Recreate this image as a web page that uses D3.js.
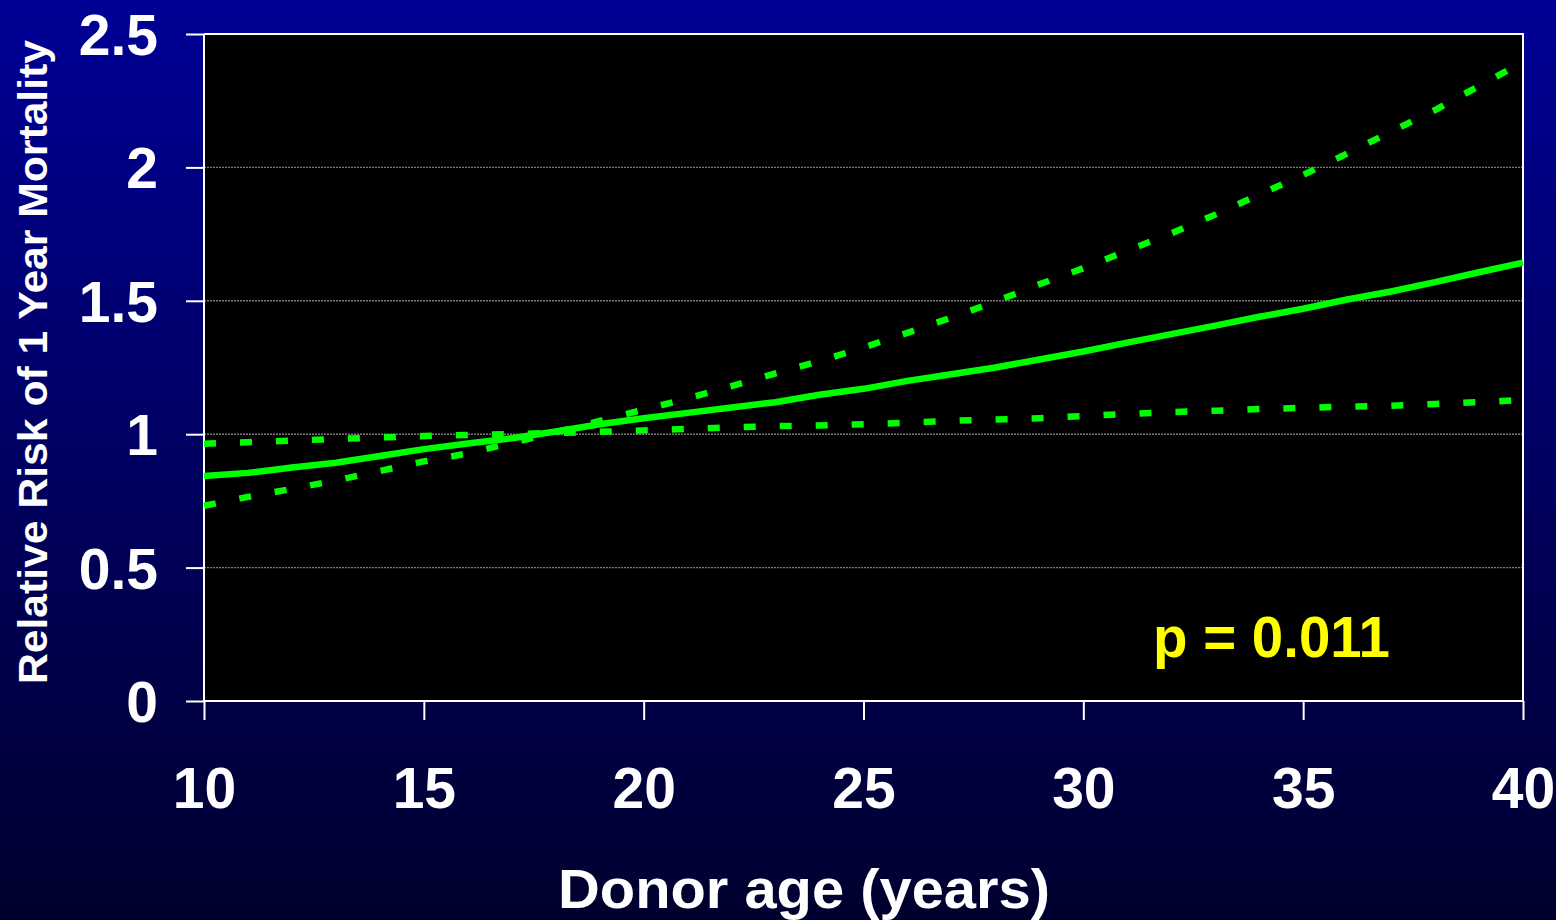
<!DOCTYPE html>
<meta charset="utf-8">
<style>
  body { margin: 0; background: #000; }
  svg { display: block; font-family: "Liberation Sans", Arial, sans-serif; font-weight: bold; }
</style>
<svg width="1556" height="920"></svg>
<script src="https://d3js.org/d3.v7.min.js"></script>
<script>

// donor age (years)
var ages = d3.range(10, 41);
// relative risk
var riskMid = [0.843, 0.855, 0.875, 0.893, 0.918, 0.944, 0.965, 0.985, 1.01, 1.037, 1.06,
               1.08, 1.1, 1.12, 1.148, 1.17, 1.2, 1.225, 1.25, 1.28, 1.31,
               1.343, 1.375, 1.407, 1.44, 1.47, 1.505, 1.535, 1.57, 1.607, 1.643];
var riskLow = [0.964, 0.97, 0.976, 0.982, 0.988, 0.993, 0.997, 1.0, 1.005, 1.009, 1.014,
               1.02, 1.026, 1.03, 1.033, 1.037, 1.043, 1.05, 1.055, 1.06, 1.068,
               1.076, 1.083, 1.088, 1.094, 1.099, 1.103, 1.107, 1.113, 1.12, 1.128];
var riskHigh = [0.732, 0.765, 0.795, 0.827, 0.862, 0.898, 0.928, 0.968, 1.007, 1.05, 1.092,
                1.134, 1.18, 1.228, 1.274, 1.325, 1.38, 1.437, 1.497, 1.562, 1.622,
                1.688, 1.753, 1.823, 1.898, 1.972, 2.052, 2.134, 2.215, 2.305, 2.395];
var xTicks = [10, 15, 20, 25, 30, 35, 40];
var yTicks = [0, 0.5, 1, 1.5, 2, 2.5];
var gridVals = [0.5, 1, 1.5, 2];

var svg = d3.select("svg"),
    width = +svg.attr("width"),
    height = +svg.attr("height");

var plotL = 204, plotR = 1523, plotT = 34, plotB = 701;

// background gradient
var grad = svg.append("defs").append("linearGradient")
    .attr("id", "bg").attr("x1", 0).attr("y1", 0).attr("x2", 0).attr("y2", 1);
grad.append("stop").attr("offset", "0%").attr("stop-color", "#000096");
grad.append("stop").attr("offset", "100%").attr("stop-color", "#00002e");

svg.append("rect").attr("width", width).attr("height", height).attr("fill", "url(#bg)");

var x = d3.scaleLinear().domain([10, 40]).range([plotL, plotR]);
var y = d3.scaleLinear().domain([0, 2.5]).range([plotB, plotT]);

// plot area
svg.append("rect")
    .attr("x", plotL).attr("y", plotT)
    .attr("width", plotR - plotL).attr("height", plotB - plotT)
    .attr("fill", "#000");

// gridlines
svg.append("g").selectAll("line")
  .data(gridVals)
  .enter().append("line")
    .attr("x1", plotL).attr("x2", plotR)
    .attr("y1", function(d) { return y(d); })
    .attr("y2", function(d) { return y(d); })
    .attr("stroke", "#7a7a7a")
    .attr("stroke-width", 1.4)
    .attr("stroke-dasharray", "2,1");

// frame top / right
svg.append("path")
    .attr("d", "M" + plotL + "," + plotT + "H" + plotR + "V" + plotB)
    .attr("fill", "none").attr("stroke", "#fff").attr("stroke-width", 2);

// axes
var yAxis = svg.append("g")
    .attr("transform", "translate(" + plotL + ",0)")
    .call(d3.axisLeft(y).tickValues(yTicks).tickSize(18).tickPadding(28)
      .tickFormat(function(d) { return String(d); }));

var xAxis = svg.append("g")
    .attr("transform", "translate(0," + plotB + ")")
    .call(d3.axisBottom(x).tickValues(xTicks).tickSize(19)
      .tickFormat(function(d) { return String(d); }));

[yAxis, xAxis].forEach(function(ax) {
  ax.select(".domain").attr("stroke", "#fff").attr("stroke-width", 2);
  ax.selectAll(".tick line").attr("stroke", "#fff").attr("stroke-width", 2);
  ax.selectAll("text").attr("fill", "#fff").attr("font-size", 57)
    .attr("font-family", "Liberation Sans, Arial, sans-serif").attr("font-weight", "bold");
});
yAxis.select(".domain").attr("d", "M0," + plotB + "V" + plotT);
yAxis.selectAll("text").attr("dy", "0.36em");
xAxis.select(".domain").attr("d", "M" + plotL + ",0H" + plotR);
xAxis.selectAll("text").attr("y", 107).attr("dy", 0);

// curves
var line = d3.line()
    .x(function(d, i) { return x(ages[i]); })
    .y(function(d) { return y(d); });

svg.append("path").datum(riskLow)
    .attr("d", line).attr("fill", "none")
    .attr("stroke", "#00ff00").attr("stroke-width", 6.5)
    .attr("stroke-dasharray", "12,24");

svg.append("path").datum(riskHigh)
    .attr("d", line).attr("fill", "none")
    .attr("stroke", "#00ff00").attr("stroke-width", 6.5)
    .attr("stroke-dasharray", "12,24");

svg.append("path").datum(riskMid)
    .attr("d", line).attr("fill", "none")
    .attr("stroke", "#00ff00").attr("stroke-width", 6.5);

// labels
svg.append("text")
    .attr("x", 1153).attr("y", 657)
    .attr("fill", "#ffff00").attr("font-size", 57)
    .attr("textLength", 237).attr("lengthAdjust", "spacingAndGlyphs")
    .text("p = 0.011");

svg.append("text")
    .attr("x", 558).attr("y", 908)
    .attr("fill", "#fff").attr("font-size", 56)
    .attr("textLength", 492).attr("lengthAdjust", "spacingAndGlyphs")
    .text("Donor age (years)");

svg.append("text")
    .attr("transform", "translate(47,684) rotate(-90)")
    .attr("fill", "#fff").attr("font-size", 40)
    .attr("textLength", 644).attr("lengthAdjust", "spacingAndGlyphs")
    .text("Relative Risk of 1 Year Mortality");

</script>
